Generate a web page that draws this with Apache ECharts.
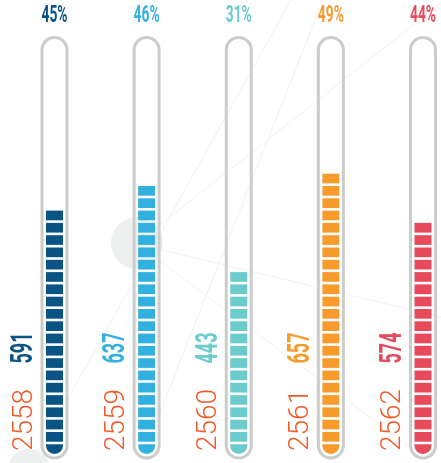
<!DOCTYPE html>
<html>
<head>
<meta charset="utf-8">
<script src="https://cdn.jsdelivr.net/npm/echarts@6/dist/echarts.min.js"></script>
<style>html,body{margin:0;padding:0;background:#fff;}#c{width:441px;height:463px;}</style>
</head>
<body>
<div id="c"></div>
<script>
// ---- data ----
var years = ['2558', '2559', '2560', '2561', '2562'];
var values = [591, 637, 443, 657, 574];
var percents = ['45%', '46%', '31%', '49%', '44%'];
var colors = ['#0a5485', '#33b1de', '#6ccbcc', '#f89b2d', '#e74a5b'];
var axisMax = 1000;

var chart = echarts.init(document.getElementById('c'));

var SEG_H = 9.7, PERIOD = 12.3, SEG_W = 17;

function tubeItem(params, api) {
  var i = api.value(0);
  var base = api.coord([i, 0]);
  var top = api.coord([i, axisMax]);
  var cx = base[0];
  return {
    type: 'rect',
    shape: { x: cx - 12.5, y: top[1] - 4.5, width: 25, height: base[1] + 4 - (top[1] - 4.5), r: 12.5 },
    style: { fill: 'none', stroke: '#cccccc', lineWidth: 3 }
  };
}

function fillItem(params, api) {
  var i = api.value(0);
  var val = api.value(1);
  var base = api.coord([i, 0]);
  var cx = base[0];
  // number of stacked segments shown for this value
  var n = Math.round(val * 0.037 - 1.77);
  var color = colors[i];
  var children = [];
  for (var j = 0; j < n; j++) {
    var yb = base[1] - j * PERIOD;
    children.push({
      type: 'rect',
      shape: { x: cx - SEG_W / 2, y: yb - SEG_H, width: SEG_W, height: SEG_H, r: j === 0 ? [0, 0, 8.5, 8.5] : 0 },
      style: { fill: color }
    });
  }
  var mx = api.coord([i, axisMax]);
  // percentage on top
  children.push({
    type: 'text', x: cx, y: mx[1] - 26, scaleX: 0.6,
    style: { text: percents[i], fill: color, fontFamily: 'Roboto', fontWeight: 'bold', fontSize: 23, align: 'center', verticalAlign: 'middle' }
  });
  // value label (rotated)
  children.push({
    type: 'text', x: cx - 30, y: base[1] - 106, rotation: Math.PI / 2, scaleX: 0.58,
    style: { text: String(values[i]), fill: color, fontFamily: 'Roboto', fontWeight: 'bold', fontSize: 31, align: 'center', verticalAlign: 'middle' }
  });
  // year label (rotated)
  children.push({
    type: 'text', x: cx - 30, y: base[1] - 34, rotation: Math.PI / 2,
    style: { text: years[i], fill: '#f05a28', fontFamily: 'Roboto', fontWeight: 300, fontSize: 28, align: 'center', verticalAlign: 'middle' }
  });
  return { type: 'group', children: children };
}

var lineStyle = { stroke: '#f1f1f1', lineWidth: 1 };
var option = {
  animation: false,
  backgroundColor: '#ffffff',
  graphic: [
    { type: 'line', z: 0, shape: { x1: 291, y1: 0, x2: 32, y2: 463 }, style: lineStyle },
    { type: 'line', z: 0, shape: { x1: 323, y1: 0, x2: 140, y2: 463 }, style: lineStyle },
    { type: 'line', z: 0, shape: { x1: 441, y1: 3, x2: 137, y2: 243 }, style: lineStyle },
    { type: 'line', z: 0, shape: { x1: 137, y1: 244, x2: 441, y2: 317 }, style: lineStyle },
    { type: 'line', z: 0, shape: { x1: 137, y1: 244, x2: 441, y2: 470 }, style: lineStyle },
    { type: 'circle', z: 1, shape: { cx: 137, cy: 243, r: 26 }, style: { fill: '#eef0f0' } },
    { type: 'circle', z: 1, shape: { cx: 29, cy: 470, r: 21 }, style: { fill: '#eef0f0' } }
  ],
  grid: { left: 54.5, right: 18, top: 42, bottom: 9 },
  xAxis: { type: 'category', data: years, boundaryGap: false, show: false },
  yAxis: { type: 'value', min: 0, max: axisMax, show: false },
  series: [
    {
      type: 'custom', z: 3, renderItem: tubeItem,
      data: years.map(function (y, i) { return [i, axisMax]; })
    },
    {
      type: 'custom', z: 4, renderItem: fillItem,
      data: values.map(function (v, i) { return [i, v]; })
    }
  ]
};
chart.setOption(option);
</script>
</body>
</html>
